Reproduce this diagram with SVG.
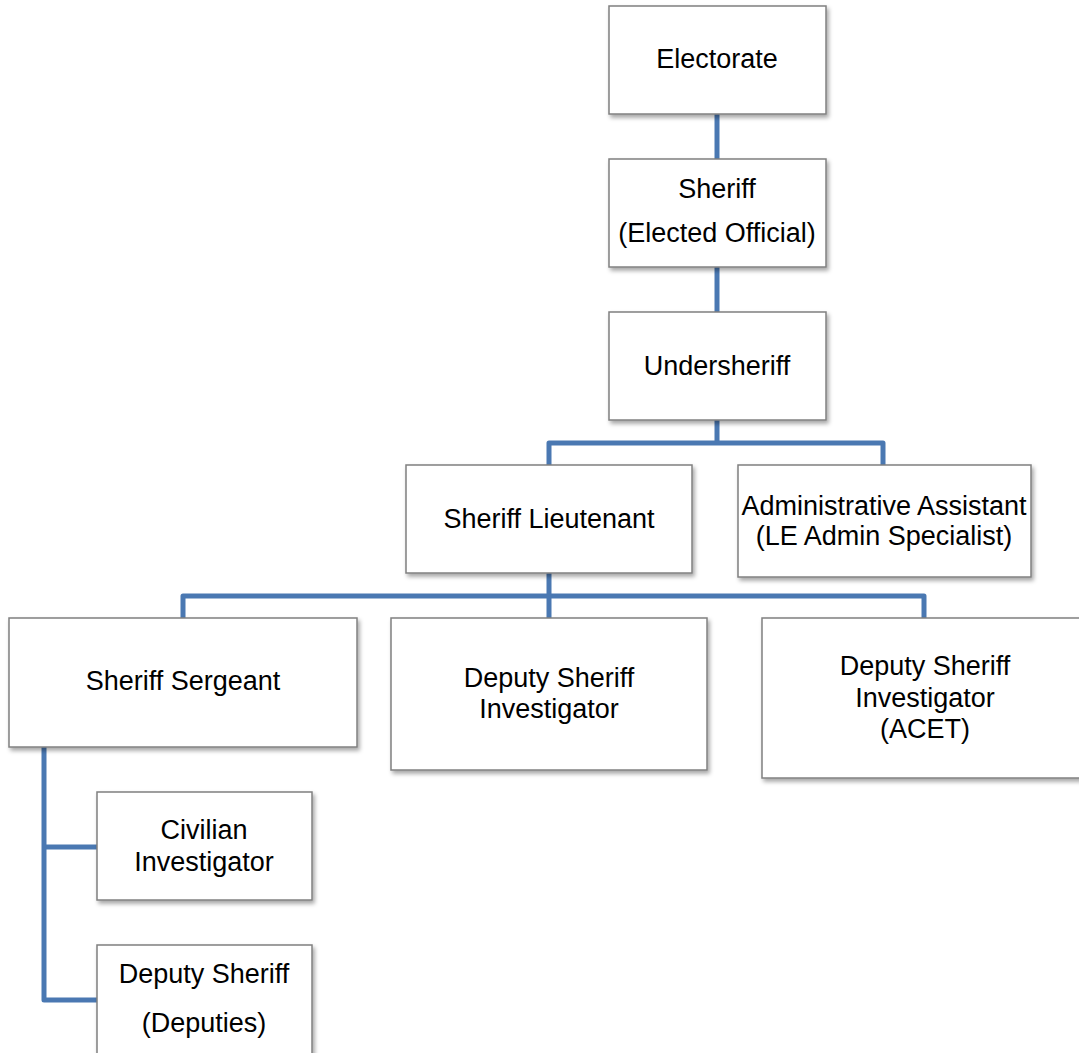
<svg xmlns="http://www.w3.org/2000/svg" width="1079" height="1053" viewBox="0 0 1079 1053">
<defs>
<filter id="sh" x="-10%" y="-10%" width="125%" height="130%">
<feDropShadow dx="2" dy="3" stdDeviation="2" flood-color="#000" flood-opacity="0.35"/>
</filter>
</defs>
<style>
.box{fill:#fff;stroke:#808080;stroke-width:1.5;filter:url(#sh)}
.t{font-family:"Liberation Sans",Arial,sans-serif;font-size:27px;fill:#000;text-anchor:middle}
.c{fill:none;stroke:#4a78b2;stroke-width:5;stroke-linejoin:round}
</style>
<rect width="1079" height="1053" fill="#fff"/>
<g id="connectors">
<path class="c" d="M717 114V159"/>
<path class="c" d="M717 267V312"/>
<path class="c" d="M717 420V443M549 465V443H883V465"/>
<path class="c" d="M549 573V618M183 618V596H924V618"/>
<path class="c" d="M44 747V1000H97M44 847H97"/>
</g>
<g id="electorate">
<rect class="box" x="609" y="6" width="217" height="108"/>
<text class="t" x="717" y="68">Electorate</text>
</g>
<g id="sheriff">
<rect class="box" x="609" y="159" width="217" height="108"/>
<text class="t" x="717" y="198">Sheriff</text>
<text class="t" x="717" y="242">(Elected Official)</text>
</g>
<g id="undersheriff">
<rect class="box" x="609" y="312" width="217" height="108"/>
<text class="t" x="717" y="375">Undersheriff</text>
</g>
<g id="lieutenant">
<rect class="box" x="406" y="465" width="286" height="108"/>
<text class="t" x="549" y="528">Sheriff Lieutenant</text>
</g>
<g id="admin">
<rect class="box" x="738" y="465" width="293" height="112"/>
<text class="t" x="884" y="515">Administrative Assistant</text>
<text class="t" x="884" y="545">(LE Admin Specialist)</text>
</g>
<g id="sergeant">
<rect class="box" x="9" y="618" width="348" height="129"/>
<text class="t" x="183" y="690">Sheriff Sergeant</text>
</g>
<g id="dsi">
<rect class="box" x="391" y="618" width="316" height="152"/>
<text class="t" x="549" y="687">Deputy Sheriff</text>
<text class="t" x="549" y="718">Investigator</text>
</g>
<g id="dsi-acet">
<rect class="box" x="762" y="618" width="330" height="160"/>
<text class="t" x="925" y="675">Deputy Sheriff</text>
<text class="t" x="925" y="707">Investigator</text>
<text class="t" x="925" y="738">(ACET)</text>
</g>
<g id="civilian">
<rect class="box" x="97" y="792" width="215" height="108"/>
<text class="t" x="204" y="839">Civilian</text>
<text class="t" x="204" y="871">Investigator</text>
</g>
<g id="deputy">
<rect class="box" x="97" y="945" width="215" height="120"/>
<text class="t" x="204" y="983">Deputy Sheriff</text>
<text class="t" x="204" y="1032">(Deputies)</text>
</g>
</svg>
